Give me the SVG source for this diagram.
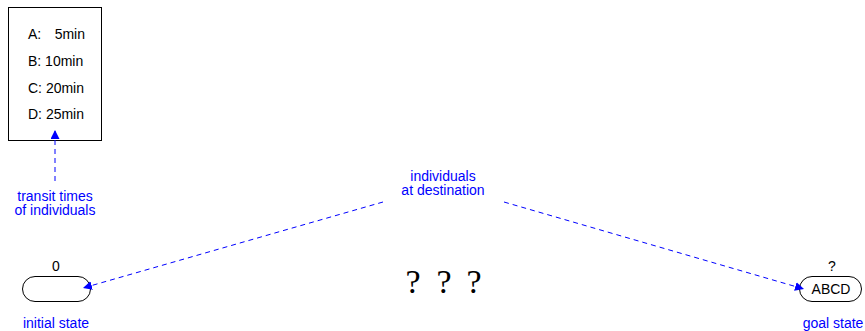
<svg xmlns="http://www.w3.org/2000/svg" width="865" height="331" viewBox="0 0 865 331">
<defs>
<style>
.t{font-family:"Liberation Sans",Arial,sans-serif;font-size:14px;fill:#000}
.b{font-family:"Liberation Sans",Arial,sans-serif;font-size:14px;fill:#0000ff;text-anchor:middle}
.c{text-anchor:middle}
.e{text-anchor:end}
.node{fill:#fff;stroke:#000;stroke-width:1}
.conn{fill:none;stroke:#0000ff;stroke-width:1;stroke-dasharray:5,4}
.q{font-family:"Liberation Serif","Times New Roman",serif;font-size:34px;fill:#000;text-anchor:middle}
</style>
<marker id="ah" viewBox="0 0 10 10" refX="10" refY="5" markerWidth="9" markerHeight="9" markerUnits="userSpaceOnUse" orient="auto">
<path d="M0,0 L10,5 L0,10 z" fill="#0000ff"/>
</marker>
</defs>
<rect width="865" height="331" fill="#fff"/>
<g id="times">
<rect class="node" x="8.5" y="7.5" width="93" height="133"/>
<text class="t" x="28" y="39">A:</text>
<text class="t e" x="85" y="39">5min</text>
<text class="t" x="28" y="66">B: 10min</text>
<text class="t" x="28" y="93">C: 20min</text>
<text class="t" x="28" y="119">D: 25min</text>
</g>
<g id="initial">
<rect class="node" x="22.5" y="276.5" width="68" height="25" rx="12.5"/>
<text class="t c" x="56" y="271">0</text>
<text class="b" x="56" y="328">initial state</text>
</g>
<g id="goal">
<rect class="node" x="799.5" y="276.5" width="62" height="25" rx="12.5"/>
<text class="t c" x="832" y="271">?</text>
<text class="t c" x="831" y="294">ABCD</text>
<text class="b" x="833" y="328">goal state</text>
</g>
<g id="transit-label">
<text class="b" x="55" y="201">transit times</text>
<text class="b" x="55" y="215">of individuals</text>
</g>
<g id="dest-label">
<text class="b" x="443" y="181">individuals</text>
<text class="b" x="443" y="195">at destination</text>
</g>
<g id="unknown">
<text class="q" x="413" y="293">?</text>
<text class="q" x="444" y="293">?</text>
<text class="q" x="474" y="293">?</text>
</g>
<g id="connectors">
<line class="conn" x1="55" y1="181" x2="55" y2="130" marker-end="url(#ah)"/>
<line class="conn" x1="383" y1="202" x2="83" y2="288" marker-end="url(#ah)"/>
<line class="conn" x1="504" y1="202" x2="804" y2="289" marker-end="url(#ah)"/>
</g>
</svg>
